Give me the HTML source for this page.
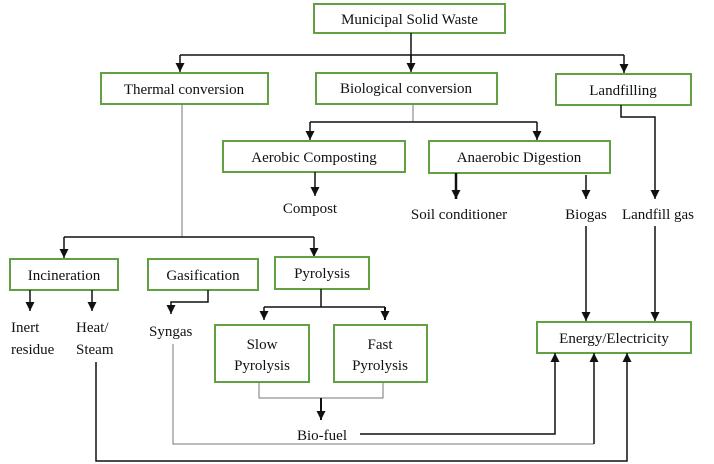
<!DOCTYPE html>
<html><head><style>
body{margin:0;background:#fff}
svg{display:block}
text{font-family:"Liberation Serif",serif;font-size:15px;fill:#111}
.b{fill:#fff;stroke:#62a044;stroke-width:2}
.l{stroke:#111;stroke-width:1.5;fill:none}
.g{stroke:#777;stroke-width:1;fill:none}
</style></head><body>
<svg width="714" height="464" viewBox="0 0 714 464">
<defs><marker id="a" markerWidth="10" markerHeight="10" refX="9" refY="4.5" orient="auto" markerUnits="userSpaceOnUse"><path d="M0,0 L9,4.5 L0,9 z" fill="#111"/></marker></defs>
<rect class="b" x="314" y="4" width="191" height="29"/><text x="409.5" y="24" text-anchor="middle">Municipal Solid Waste</text>
<path class="l" d="M411,33V62M180,55H624"/>
<path class="l" d="M180,55V72" marker-end="url(#a)"/><path class="l" d="M411,55V72" marker-end="url(#a)"/><path class="l" d="M624,55V73" marker-end="url(#a)"/>
<rect class="b" x="101" y="73" width="167" height="31"/><text x="184" y="94" text-anchor="middle">Thermal conversion</text>
<rect class="b" x="316" y="73" width="181" height="31"/><text x="406" y="93" text-anchor="middle">Biological conversion</text>
<rect class="b" x="556" y="74" width="135" height="31"/><text x="623" y="95" text-anchor="middle">Landfilling</text>
<path class="g" d="M413,104V122"/><path class="l" d="M310,122H537"/>
<path class="l" d="M310,122V140" marker-end="url(#a)"/><path class="l" d="M537,122V140" marker-end="url(#a)"/>
<rect class="b" x="223" y="141" width="182" height="31"/><text x="314" y="162" text-anchor="middle">Aerobic Composting</text>
<rect class="b" x="429" y="141" width="181" height="32"/><text x="519" y="162" text-anchor="middle">Anaerobic Digestion</text>
<path class="l" d="M315,172V196" marker-end="url(#a)"/><text x="310" y="213" text-anchor="middle">Compost</text>
<path class="l" d="M456,173V199" marker-end="url(#a)" style="stroke-width:2.5"/><text x="459" y="219" text-anchor="middle">Soil conditioner</text>
<path class="l" d="M586,175V199" marker-end="url(#a)"/><text x="586" y="219" text-anchor="middle">Biogas</text>
<path class="l" d="M621,105V117H655V199" marker-end="url(#a)"/><text x="658" y="219" text-anchor="middle">Landfill gas</text>
<path class="l" d="M586,226V321" marker-end="url(#a)"/><path class="l" d="M655,226V321" marker-end="url(#a)"/>
<rect class="b" x="537" y="322" width="154" height="31"/><text x="614" y="343" text-anchor="middle">Energy/Electricity</text>
<path class="g" d="M182,104V237"/><path class="l" d="M64,237H314"/>
<path class="l" d="M64,237V258" marker-end="url(#a)"/><path class="l" d="M314,237V257" marker-end="url(#a)"/>
<rect class="b" x="10" y="259" width="108" height="31"/><text x="64" y="280" text-anchor="middle">Incineration</text>
<rect class="b" x="148" y="259" width="110" height="31"/><text x="203" y="280" text-anchor="middle">Gasification</text>
<rect class="b" x="275" y="257" width="94" height="32"/><text x="322" y="278" text-anchor="middle">Pyrolysis</text>
<path class="l" d="M30,290V311" marker-end="url(#a)"/><path class="l" d="M92,290V311" marker-end="url(#a)"/>
<text x="11" y="332">Inert</text><text x="11" y="354">residue</text>
<text x="76" y="332">Heat/</text><text x="76" y="354">Steam</text>
<path class="l" d="M208,290V302H171V314" marker-end="url(#a)"/><text x="149" y="336">Syngas</text>
<path class="l" d="M321,289V307M264,307H385"/>
<path class="l" d="M264,307V320" marker-end="url(#a)"/><path class="l" d="M385,307V320" marker-end="url(#a)" style="stroke-width:2"/>
<rect class="b" x="215" y="325" width="94" height="57"/><text x="262" y="349" text-anchor="middle">Slow</text><text x="262" y="370" text-anchor="middle">Pyrolysis</text>
<rect class="b" x="334" y="325" width="93" height="57"/><text x="380" y="349" text-anchor="middle">Fast</text><text x="380" y="370" text-anchor="middle">Pyrolysis</text>
<path class="g" d="M259,382V398H383V382"/><path class="l" d="M321,398V420" marker-end="url(#a)" style="stroke-width:2"/>
<text x="322" y="440" text-anchor="middle">Bio-fuel</text>
<path class="l" d="M360,434H555V353" marker-end="url(#a)"/>
<path class="g" d="M173,344V444H594"/><path class="l" d="M594,444V353" marker-end="url(#a)"/>
<path class="l" d="M96,362V461H627V353" marker-end="url(#a)"/>
</svg>
</body></html>
